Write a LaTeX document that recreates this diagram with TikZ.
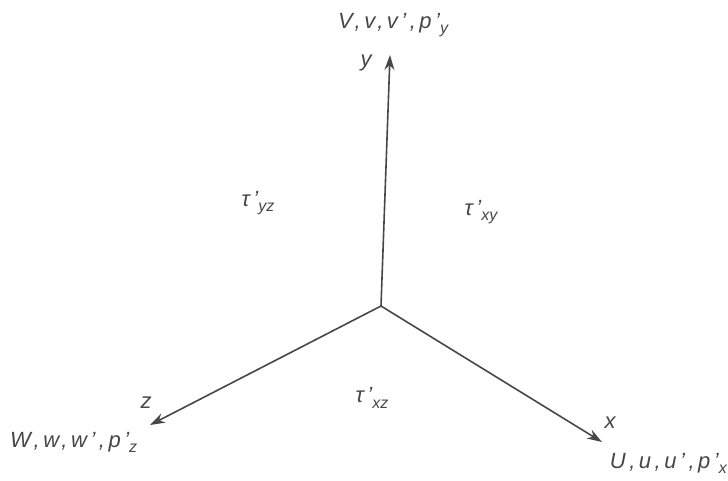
\documentclass[tikz,border=0pt]{standalone}
\usepackage{fontspec}
\setmainfont{Liberation Sans}
\usetikzlibrary{arrows.meta}
\newcommand\lsub[1]{\raisebox{-0.45ex}{\addfontfeatures{LetterSpace=0}\fontsize{16}{17}\selectfont #1}}
\tikzset{
  axis/.style={draw=black!72, line width=1.6pt, -{Stealth[length=15pt,width=10pt]}},
  lbl/.style={text=black!72, font=\fontsize{22}{24}\selectfont\itshape\addfontfeatures{LetterSpace=16}, inner sep=0pt},
  albl/.style={text=black!72, font=\fontsize{22}{24}\selectfont\itshape, inner sep=0pt},
  tlbl/.style={text=black!72, font=\fontsize{22}{24}\selectfont\itshape, inner sep=0pt}
}
\begin{document}
\begin{tikzpicture}[x=1pt,y=-1pt]
\useasboundingbox (0,0) rectangle (728,480);
\coordinate (o) at (381,306);
\coordinate (ytip) at (390,55);
\coordinate (ztip) at (150,425);
\coordinate (xtip) at (602,442);
\draw[axis] (o) -- (ytip);
\draw[axis] (o) -- (ztip);
\draw[axis] (o) -- (xtip);
\node[albl] (ly) at (366,63) {y};
\node[albl] (lz) at (146,403) {z};
\node[albl] (lx) at (610,423) {x};
\node[lbl, anchor=base west] (V) at (338,28) {V,v,v',p'\lsub{y}};
\node[lbl, anchor=base west] (W) at (10,447) {W,w,w',p'\lsub{z}};
\node[lbl, anchor=base east] (U) at (727,468) {U,u,u',p'\lsub{x}};
\node[tlbl] (tyz) at (258,203) {τ\,'\lsub{yz}};
\node[tlbl] (txy) at (481,212) {τ\,'\lsub{xy}};
\node[tlbl] (txz) at (372,398) {τ\,'\lsub{xz}};
\end{tikzpicture}
\end{document}
